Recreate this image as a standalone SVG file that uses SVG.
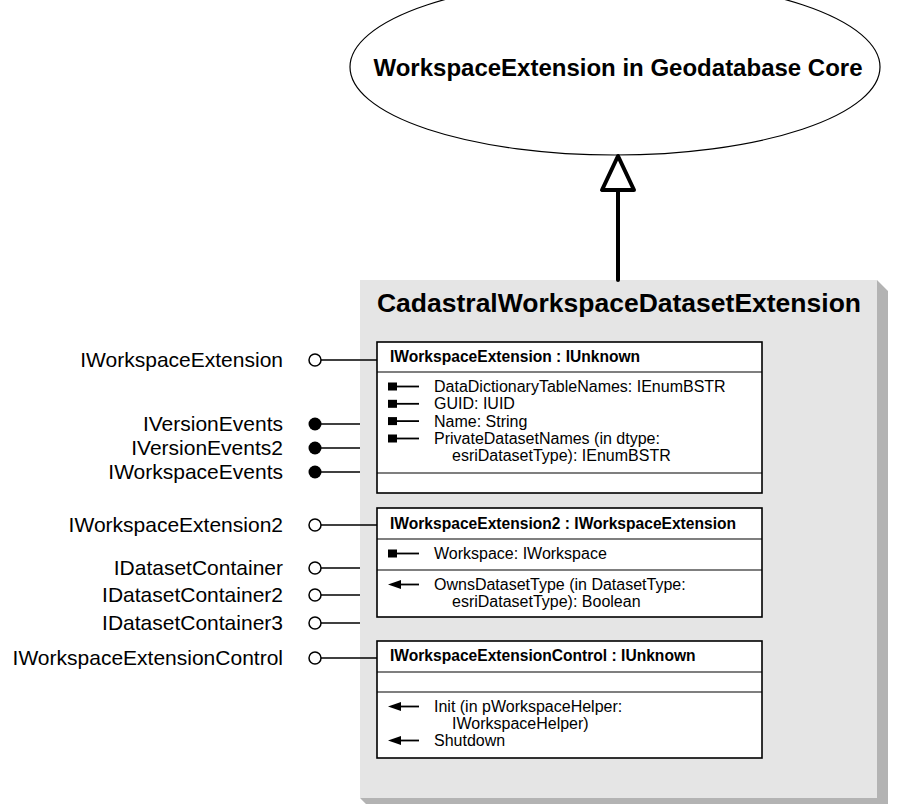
<svg xmlns="http://www.w3.org/2000/svg" width="915" height="804" viewBox="0 0 915 804">
<style>
  text { font-family: "Liberation Sans", Arial, sans-serif; fill: #000; }
  .lbl { font-size: 21px; text-anchor: end; }
  .hdr { font-size: 15.6px; font-weight: bold; }
  .mem { font-size: 16px; }
  .ibox { fill: #fff; stroke: #000; stroke-width: 1.6; }
  .div { stroke: #000; stroke-width: 1.2; }
  .wire { stroke: #000; stroke-width: 1.5; fill: none; }
  .open { fill: #fff; stroke: #000; stroke-width: 1.5; }
  .fill { fill: #000; }
  .icl { stroke: #000; stroke-width: 1.8; }
</style>
<defs>
  <g id="prop">
    <rect x="0" y="-4" width="9" height="8" fill="#000"/>
    <line x1="9" y1="0" x2="31" y2="0" class="icl"/>
  </g>
  <g id="meth">
    <polygon points="0,0 13,-4.5 13,4.5" fill="#000"/>
    <line x1="12" y1="0" x2="31" y2="0" class="icl"/>
  </g>
</defs>

<g id="superclass">
  <ellipse cx="615" cy="67" rx="265" ry="88" fill="#fff" stroke="#000" stroke-width="1.2"/>
  <text x="618" y="76" font-size="24" font-weight="bold" text-anchor="middle">WorkspaceExtension in Geodatabase Core</text>
</g>

<g id="CadastralWorkspaceDatasetExtension">
  <polygon points="877,280 888,291 888,809 371,809 360,798 877,798" fill="#b3b3b3"/>
  <rect x="360" y="280" width="517" height="518" fill="#e5e5e5"/>
  <text x="619" y="312" font-size="26.5" font-weight="bold" text-anchor="middle">CadastralWorkspaceDatasetExtension</text>

  <g id="IWorkspaceExtension">
    <rect x="377" y="342" width="385" height="151" class="ibox"/>
    <line x1="377" y1="372" x2="762" y2="372" class="div"/>
    <line x1="377" y1="473" x2="762" y2="473" class="div"/>
    <text x="390" y="362" class="hdr">IWorkspaceExtension : IUnknown</text>
    <use href="#prop" x="388" y="386.5"/>
    <text x="434" y="392" class="mem">DataDictionaryTableNames: IEnumBSTR</text>
    <use href="#prop" x="388" y="403.8"/>
    <text x="434" y="409.3" class="mem">GUID: IUID</text>
    <use href="#prop" x="388" y="421.1"/>
    <text x="434" y="426.6" class="mem">Name: String</text>
    <use href="#prop" x="388" y="438.5"/>
    <text x="434" y="444" class="mem">PrivateDatasetNames (in dtype:</text>
    <text x="452" y="461.3" class="mem">esriDatasetType): IEnumBSTR</text>
  </g>

  <g id="IWorkspaceExtension2">
    <rect x="377" y="508" width="385" height="109" class="ibox"/>
    <line x1="377" y1="539" x2="762" y2="539" class="div"/>
    <line x1="377" y1="570" x2="762" y2="570" class="div"/>
    <text x="390" y="528.5" class="hdr">IWorkspaceExtension2 : IWorkspaceExtension</text>
    <use href="#prop" x="388" y="553.5"/>
    <text x="434" y="559" class="mem">Workspace: IWorkspace</text>
    <use href="#meth" x="388" y="584.5"/>
    <text x="434" y="590" class="mem">OwnsDatasetType (in DatasetType:</text>
    <text x="452" y="607" class="mem">esriDatasetType): Boolean</text>
  </g>

  <g id="IWorkspaceExtensionControl">
    <rect x="377" y="641" width="385" height="117" class="ibox"/>
    <line x1="377" y1="672" x2="762" y2="672" class="div"/>
    <line x1="377" y1="692" x2="762" y2="692" class="div"/>
    <text x="390" y="661" class="hdr">IWorkspaceExtensionControl : IUnknown</text>
    <use href="#meth" x="388" y="706.5"/>
    <text x="434" y="712" class="mem">Init (in pWorkspaceHelper:</text>
    <text x="452" y="729" class="mem">IWorkspaceHelper)</text>
    <use href="#meth" x="388" y="740.5"/>
    <text x="434" y="746" class="mem">Shutdown</text>
  </g>
</g>

<g id="interface-labels">
  <text x="283" y="367" class="lbl">IWorkspaceExtension</text>
  <text x="283" y="431" class="lbl">IVersionEvents</text>
  <text x="283" y="455" class="lbl">IVersionEvents2</text>
  <text x="283" y="479" class="lbl">IWorkspaceEvents</text>
  <text x="283" y="532" class="lbl">IWorkspaceExtension2</text>
  <text x="283" y="575" class="lbl">IDatasetContainer</text>
  <text x="283" y="602" class="lbl">IDatasetContainer2</text>
  <text x="283" y="630" class="lbl">IDatasetContainer3</text>
  <text x="283" y="665" class="lbl">IWorkspaceExtensionControl</text>
</g>

<g id="connectors">
  <line x1="618" y1="280" x2="618" y2="190" stroke="#000" stroke-width="4" stroke-linecap="round"/>
  <polygon points="618,156 602,190 634,190" fill="#fff" stroke="#000" stroke-width="4" stroke-linejoin="round"/>

  <line x1="321" y1="360" x2="377" y2="360" class="wire"/>
  <circle cx="315" cy="360" r="6" class="open"/>

  <line x1="315" y1="424" x2="360" y2="424" class="wire"/>
  <circle cx="315" cy="424" r="6.5" class="fill"/>
  <line x1="315" y1="448" x2="360" y2="448" class="wire"/>
  <circle cx="315" cy="448" r="6.5" class="fill"/>
  <line x1="315" y1="472" x2="360" y2="472" class="wire"/>
  <circle cx="315" cy="472" r="6.5" class="fill"/>

  <line x1="321" y1="525" x2="377" y2="525" class="wire"/>
  <circle cx="315" cy="525" r="6" class="open"/>

  <line x1="321" y1="568" x2="360" y2="568" class="wire"/>
  <circle cx="315" cy="568" r="6" class="open"/>
  <line x1="321" y1="595" x2="360" y2="595" class="wire"/>
  <circle cx="315" cy="595" r="6" class="open"/>
  <line x1="321" y1="623" x2="360" y2="623" class="wire"/>
  <circle cx="315" cy="623" r="6" class="open"/>

  <line x1="321" y1="658" x2="377" y2="658" class="wire"/>
  <circle cx="315" cy="658" r="6" class="open"/>
</g>
</svg>
